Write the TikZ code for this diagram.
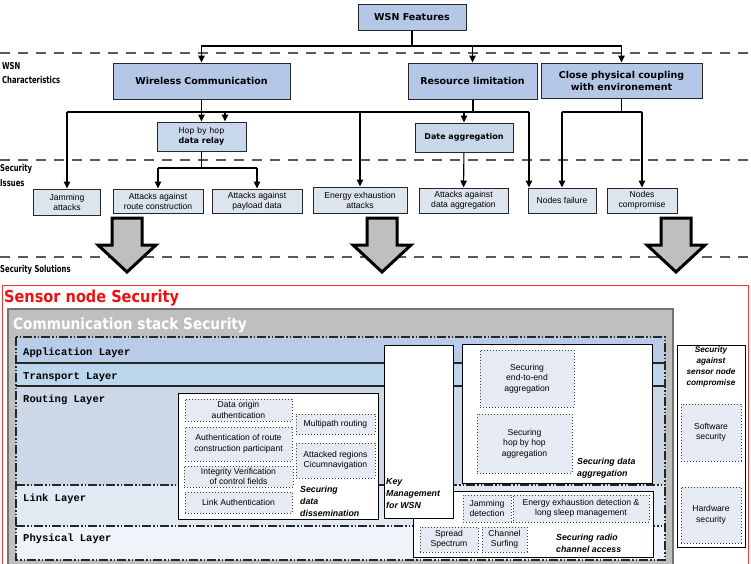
\documentclass[tikz,border=0pt]{standalone}
\usepackage{fontspec}
\setmainfont{Liberation Sans}
\newfontfamily\headfont{DejaVu Sans}
\newfontfamily\condfont[FakeStretch=0.72]{DejaVu Sans}
\newfontfamily\titlefont[FakeStretch=0.88]{DejaVu Sans}
\newfontfamily\layerfont{Liberation Mono}
\usetikzlibrary{arrows.meta,calc}

\definecolor{topfill}{HTML}{B4C7E7}
\definecolor{midfill}{HTML}{C9D7EA}
\definecolor{issuefill}{HTML}{DCE4EE}
\definecolor{dotfill}{HTML}{E6EBF3}
\definecolor{stackgray}{HTML}{BFBFBF}
\definecolor{appfill}{HTML}{B8CBE9}
\definecolor{transfill}{HTML}{BCD6EE}
\definecolor{routefill}{HTML}{CCD8E8}
\definecolor{linkfill}{HTML}{E1E9F3}
\definecolor{physfill}{HTML}{EFF4FA}
\definecolor{sred}{HTML}{EE1111}

\tikzset{
  topbox/.style={draw=black!85, line width=1pt, fill=topfill, inner sep=0pt, align=center,
    font=\headfont\bfseries\fontsize{9.5}{12}\selectfont},
  midbox/.style={draw=black!85, line width=1pt, fill=midfill, inner sep=0pt, align=center,
    font=\headfont\fontsize{8}{10}\selectfont},
  issuebox/.style={draw=black!85, line width=1pt, fill=issuefill, inner sep=0pt, align=center,
    font=\fontsize{8.6}{10}\selectfont},
  whitebox/.style={draw=black, line width=1pt, fill=white, inner sep=0pt},
  dotbox/.style={draw=black!75, line width=1pt, dotted, fill=dotfill, inner sep=0pt, align=center,
    font=\fontsize{8.6}{10.5}\selectfont},
  arr/.style={-{Triangle[width=6.5pt,length=7pt]}, line width=1.1pt},
  link/.style={line width=1.1pt},
  sepline/.style={draw=black!65, line width=1.3pt, dash pattern=on 10pt off 8pt},
  sidelabel/.style={anchor=west, inner sep=0pt, font=\condfont\bfseries\fontsize{9.5}{10}\selectfont},
  layerlabel/.style={anchor=west, inner sep=0pt, font=\layerfont\bfseries\fontsize{10.5}{11}\selectfont},
  layerline/.style={draw=black!85, line width=1.3pt, dash pattern=on 9pt off 2pt on 1.5pt off 2pt on 1.5pt off 2pt},
  caption/.style={anchor=west, inner sep=0pt, align=left, font=\itshape\bfseries\fontsize{8.8}{12}\selectfont},
  bigarrow/.style={draw=black, line width=3pt, line join=miter, fill=stackgray},
}

\begin{document}
\begin{tikzpicture}[x=1pt,y=-1pt]
\useasboundingbox (0,0) rectangle (751,563);

% ---------- separators and side labels ----------
\draw[sepline] (0,53) -- (751,53);
\draw[sepline] (0,160) -- (751,160);
\draw[sepline] (0,257) -- (751,257);
\node[sidelabel] (lwsn) at (2,66) {WSN};
\node[sidelabel] (lchar) at (2,80) {Characteristics};
\node[sidelabel] (lsec) at (0,169) {Security};
\node[sidelabel] (liss) at (0,183) {Issues};
\node[sidelabel] (lsol) at (0,270) {Security Solutions};

% ---------- feature tree ----------
\node[topbox, minimum width=108, minimum height=26] (features) at (412,17) {WSN Features};
\node[topbox, minimum width=177, minimum height=36] (wireless) at (201.5,81) {Wireless Communication};
\node[topbox, minimum width=129, minimum height=36] (resource) at (472.5,81) {Resource limitation};
\node[topbox, minimum width=161, minimum height=35] (coupling) at (621.5,80.5) {Close physical coupling\\with environement};

\node[midbox, minimum width=89, minimum height=29] (hop) at (201.5,136.5) {Hop by hop\\\textbf{data relay}};
\node[midbox, font=\headfont\bfseries\fontsize{8}{10}\selectfont, minimum width=98, minimum height=29] (dagg) at (464,137.5) {Date aggregation};

\node[issuebox, minimum width=67, minimum height=26] (jam) at (67,202) {Jamming\\attacks};
\node[issuebox, minimum width=90, minimum height=24] (route) at (158,201) {Attacks against\\route construction};
\node[issuebox, minimum width=90, minimum height=24] (payload) at (257,201) {Attacks against\\payload data};
\node[issuebox, minimum width=94, minimum height=26] (energy) at (360,200) {Energy exhaustion\\attacks};
\node[issuebox, minimum width=89, minimum height=25] (attagg) at (463.5,200.5) {Attacks against\\data aggregation};
\node[issuebox, minimum width=68, minimum height=25] (nfail) at (562,200.5) {Nodes failure};
\node[issuebox, minimum width=70, minimum height=25] (ncomp) at (642,200.5) {Nodes\\compromise};

% connectors from the root
\coordinate (rootbus) at (412,46);
\draw[link] (features) -- (rootbus);
\draw[arr] (rootbus) -| (wireless);
\draw[arr] (rootbus) -| (resource);
\draw[arr] (rootbus) -| (coupling);

% wireless communication
\draw[arr] (wireless) -- (hop);

% resource limitation bus
\coordinate (resbusL) at (67,112);
\coordinate (resbusR) at (529,112);
\draw[line width=2pt] (resource.south) -- (resource.south |- resbusL);
\draw[link] (resbusL) -- (resbusR);
\draw[arr] (resbusL) -- (jam);
\coordinate (hopin) at ($(hop.north)+(23.5,0)$);
\draw[arr] (hopin |- resbusL) -- (hopin);
\draw[arr] (energy |- resbusL) -- (energy);
\draw[arr] (dagg |- resbusL) -- (dagg);
\coordinate (nfailin) at ($(nfail.north west)+(1.5,0)$);
\draw[arr] (resbusR) -- (nfailin);

% close physical coupling bus
\coordinate (cpbus) at (621.5,112);
\draw[link] (coupling) -- (cpbus);
\draw[link] (nfail |- cpbus) -- (ncomp |- cpbus);
\draw[arr] (nfail |- cpbus) -- (nfail);
\draw[arr] (ncomp |- cpbus) -- (ncomp);

% hop by hop bus
\coordinate (hopbus) at (201.5,168);
\draw[link] (hop) -- (hopbus);
\draw[link] (route |- hopbus) -- (payload |- hopbus);
\draw[arr] (route |- hopbus) -- (route);
\draw[arr] (payload |- hopbus) -- (payload);

% data aggregation
\draw[arr] (dagg) -- (attagg);

% ---------- big arrows ----------
\foreach \c in {127,382,676}{
  \draw[bigarrow] (\c-15,218) -- (\c+15,218) -- (\c+15,245) -- (\c+29,245) -- (\c,272)
    -- (\c-29,245) -- (\c-15,245) -- cycle;
}

% ---------- sensor node security ----------
\draw[draw=sred!85, line width=1pt] (2,285) rectangle (748.5,570);
\node[anchor=west, inner sep=0pt, text=sred, font=\titlefont\bfseries\fontsize{16.5}{18}\selectfont] (snstitle) at (4,298) {Sensor node Security};

\draw[draw=black!55, line width=1.2pt, fill=stackgray] (8,309) rectangle (673,570);
\node[anchor=west, inner sep=0pt, text=white, font=\titlefont\bfseries\fontsize{15.5}{17}\selectfont] (csstitle) at (13,325) {Communication stack Security};

% protocol layers
\fill[appfill] (16,337) rectangle (665,363);
\fill[transfill] (16,363) rectangle (665,386);
\fill[routefill] (16,386) rectangle (665,485);
\fill[linkfill] (16,485) rectangle (665,526);
\fill[physfill] (16,526) rectangle (665,560);
\draw[black!85, line width=1.2pt] (16,363) -- (665,363);
\draw[black!85, line width=1.2pt] (16,386) -- (665,386);
\draw[layerline] (16,485) -- (665,485);
\draw[layerline] (16,526) -- (665,526);
\draw[layerline] (16,337) rectangle (665,560);

\node[layerlabel] (lapp) at (23,353) {Application Layer};
\node[layerlabel] (ltrans) at (23,377) {Transport Layer};
\node[layerlabel] (lroute) at (23,400) {Routing Layer};
\node[layerlabel] (llink) at (23,499) {Link Layer};
\node[layerlabel] (lphys) at (23,539) {Physical Layer};

% securing data dissemination
\node[whitebox, minimum width=200, minimum height=126] (dissem) at (278,456) {};
\node[dotbox, minimum width=107, minimum height=22] (dorig) at (238.5,410) {Data origin\\authentication};
\node[dotbox, minimum width=107, minimum height=34] (authr) at (238.5,444) {Authentication of route\\construction participant};
\node[dotbox, minimum width=109, minimum height=21] (integ) at (238.5,476.5) {Integrity Verification\\of control fields};
\node[dotbox, minimum width=107, minimum height=21] (linka) at (238.5,502.5) {Link Authentication};
\node[dotbox, minimum width=79, minimum height=20] (multi) at (335.5,424) {Multipath routing};
\node[dotbox, minimum width=79, minimum height=35] (circ) at (335.5,460.5) {Attacked regions\\Cicumnavigation};
\node[caption] (cdissem) at (300,501) {Securing\\data\\dissemination};

% securing radio channel access (under key management)
\node[whitebox, minimum width=240, minimum height=66] (radio) at (533,524) {};
\node[dotbox, minimum width=48, minimum height=27] (jamd) at (487,508.5) {Jamming\\detection};
\node[dotbox, minimum width=136, minimum height=27] (energd) at (581,508.5) {Energy exhaustion detection \&\\long sleep management};
\node[dotbox, minimum width=58, minimum height=25] (spread) at (449,539.5) {Spread\\Spectrum};
\node[dotbox, minimum width=45, minimum height=25] (chan) at (504.5,539.5) {Channel\\Surfing};
\node[caption] (cradio) at (556,543) {Securing radio\\channel access};

% key management
\node[whitebox, minimum width=69, minimum height=173] (keymgmt) at (418.5,431.5) {};
\node[caption] (ckey) at (386,494) {Key\\Management\\for WSN};

% securing data aggregation
\node[whitebox, minimum width=190, minimum height=139] (aggr) at (557,413.5) {};
\node[dotbox, minimum width=94, minimum height=57] (e2e) at (527,378.5) {Securing\\end-to-end\\aggregation};
\node[dotbox, minimum width=95, minimum height=59] (hbh) at (524.5,443.5) {Securing\\hop by hop\\aggregation};
\node[caption] (caggr) at (577,468) {Securing data\\aggregation};

% node compromise
\node[whitebox, minimum width=68, minimum height=202] (compr) at (711,446) {};
\node[inner sep=0pt, align=center, font=\itshape\bfseries\fontsize{8.2}{11.2}\selectfont] (ccompr) at (711,367) {Security\\against\\sensor node\\compromise};
\node[dotbox, minimum width=60, minimum height=57] (soft) at (711,432.5) {Software\\security};
\node[dotbox, minimum width=60, minimum height=56] (hard) at (711,515) {Hardware\\security};

\end{tikzpicture}
\end{document}
